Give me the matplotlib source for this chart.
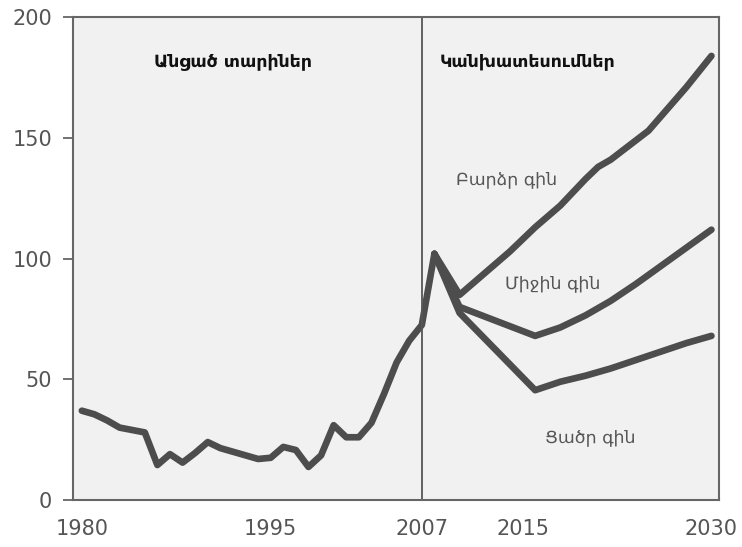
import matplotlib
matplotlib.use("Agg")
import matplotlib.pyplot as plt

# Historical prices
hist_years = list(range(1980, 2009))
hist_values = [37, 35.5, 33, 30, 29, 28, 14.5, 19, 15.5, 19.5, 24, 21.5, 20, 18.5, 17, 17.5,
               22, 20.7, 13.7, 18.5, 31, 26, 26, 32, 44, 57, 66, 72.5, 102]

# Forecast scenarios
high_years = [2008, 2010, 2012, 2014, 2016, 2018, 2020, 2021, 2022, 2024, 2025, 2026, 2028, 2030]
high_values = [102, 85, 94, 103, 113, 122, 133, 138, 141, 149, 153, 159, 171, 184]

mid_years = [2008, 2010, 2016, 2018, 2020, 2022, 2024, 2026, 2028, 2030]
mid_values = [102, 80, 68, 71.5, 76.5, 82.5, 89.5, 97, 104.5, 112]

low_years = [2008, 2010, 2016, 2018, 2020, 2022, 2024, 2026, 2028, 2030]
low_values = [102, 77.5, 45.5, 49, 51.5, 54.5, 58, 61.5, 65, 68]

x_ticks = [1980, 1995, 2007, 2015, 2030]
y_ticks = [0, 50, 100, 150, 200]

line_color = "#4d4d4d"
text_gray = "#555555"

fig = plt.figure(figsize=(7.42, 5.47), dpi=100)
ax = fig.add_axes([0.0984, 0.0859, 0.8706, 0.8825])
ax.set_facecolor("#f1f1f1")

lw = 4.8
for xs, ys in [(hist_years, hist_values), (high_years, high_values),
               (mid_years, mid_values), (low_years, low_values)]:
    ax.plot(xs, ys, color=line_color, lw=lw, solid_capstyle="round",
            solid_joinstyle="round")

ax.axvline(2007, color="#555555", lw=1.3)

ax.set_xlim(1979.3, 2030.6)
ax.set_ylim(0, 200)
ax.set_xticks(x_ticks)
ax.set_yticks(y_ticks)
ax.tick_params(axis="x", length=0, pad=14, labelsize=15, labelcolor=text_gray)
ax.tick_params(axis="y", length=7, width=1.3, color="#666666", pad=8,
               labelsize=15, labelcolor=text_gray)
for s in ax.spines.values():
    s.set_color("#666666")
    s.set_linewidth(1.5)

fs = 12.5
ax.text(1992.0, 182, "Անցած տարիներ", fontsize=fs, fontweight="bold",
        color="#111111", ha="center", va="center")
ax.text(2008.4, 182, "Կանխատեսումներ", fontsize=fs, fontweight="bold",
        color="#111111", ha="left", va="center")
ax.text(2013.7, 133, "Բարձր գին", fontsize=fs, color=text_gray, ha="center", va="center")
ax.text(2017.4, 90, "Միջին գին", fontsize=fs, color=text_gray, ha="center", va="center")
ax.text(2020.4, 26, "Ցածր գին", fontsize=fs, color=text_gray, ha="center", va="center")

fig.savefig("out.png", dpi=100)
